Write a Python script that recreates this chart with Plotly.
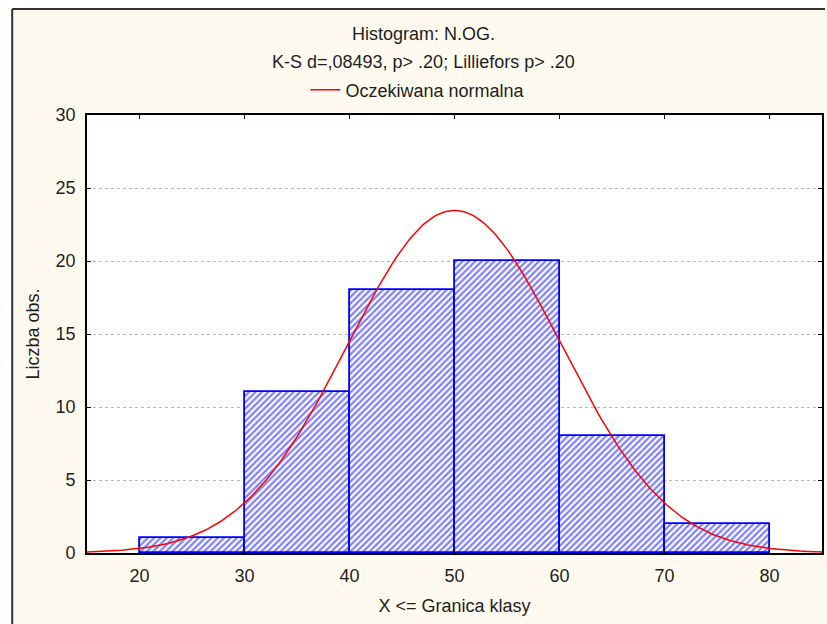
import numpy as np
import plotly.graph_objects as go

# ---- data ----
bin_left = [20, 30, 40, 50, 60, 70]
bin_width = 10
counts = [1, 11, 18, 20, 8, 2]
x_ticks = [20, 30, 40, 50, 60, 70, 80]
y_ticks = [0, 5, 10, 15, 20, 25, 30]
# expected normal (fitted) parameters
norm_mean = 50.0
norm_sd = 10.2
n_obs = sum(counts)
title_1 = "Histogram: N.OG."
title_2 = "K-S d=,08493, p> .20; Lilliefors p> .20"
legend_label = "Oczekiwana normalna"
x_title = "X <= Granica klasy"
y_title = "Liczba obs."

W, H = 827, 624
ML, MR, MT, MB = 87, 3, 115, 71
PW = W - ML - MR
PH = H - MT - MB


def px_x(px):
    return (px - ML) / PW


def px_y(py):
    return (H - MB - py) / PH


xs = np.linspace(15, 85, 300)
ys = n_obs * bin_width / (norm_sd * np.sqrt(2 * np.pi)) * np.exp(-0.5 * ((xs - norm_mean) / norm_sd) ** 2)

FONT = "Liberation Sans, Arial, sans-serif"
TXT = "#1e1e1e"
FS = 18

fig = go.Figure()
fig.add_trace(go.Bar(
    x=bin_left, y=counts, width=bin_width, offset=0,
    marker=dict(color="white", line=dict(color="#0000ff", width=1.8),
                pattern=dict(shape="/", fgcolor="#0000ff", bgcolor="white",
                             size=4.5, solidity=0.5)),
    showlegend=False, hoverinfo="skip",
))
fig.add_trace(go.Scatter(
    x=xs, y=ys, mode="lines", name=legend_label,
    line=dict(color="#ff0000", width=1.5), showlegend=True,
))

fig.update_layout(
    width=W, height=H,
    margin=dict(l=ML, r=MR, t=MT, b=MB),
    paper_bgcolor="#fffaef", plot_bgcolor="white",
    font=dict(family=FONT, color=TXT, size=FS),
    bargap=0,
    legend=dict(orientation="h", x=px_x(306), y=px_y(90), xanchor="left", yanchor="middle",
                bgcolor="rgba(0,0,0,0)", font=dict(size=FS, family=FONT, color=TXT),
                itemwidth=30),
    xaxis=dict(range=[15, 85], tickvals=x_ticks, ticks="inside", ticklen=4, tickcolor="black",
               showline=True, linecolor="black", linewidth=1.8, mirror="ticks",
               showgrid=False, zeroline=False, tickfont=dict(size=FS, color=TXT),
               ticklabelstandoff=5,
               title=dict(text=x_title, font=dict(size=FS, color=TXT), standoff=15)),
    yaxis=dict(range=[0, 30], tickvals=y_ticks, ticks="inside", ticklen=4, tickcolor="black",
               showline=True, linecolor="black", linewidth=1.8, mirror="ticks",
               showgrid=True, gridcolor="#b8b8b8", griddash="dot", gridwidth=1,
               zeroline=False, tickfont=dict(size=FS, color=TXT), ticklabelstandoff=6,
               title=dict(text=y_title, font=dict(size=FS, color=TXT), standoff=11)),
    annotations=[
        dict(text=title_1, x=px_x(424), y=px_y(34), xref="paper", yref="paper",
             showarrow=False, font=dict(size=FS, color=TXT), xanchor="center", yanchor="middle"),
        dict(text=title_2, x=px_x(424), y=px_y(62), xref="paper", yref="paper",
             showarrow=False, font=dict(size=FS, color=TXT), xanchor="center", yanchor="middle"),
    ],
    shapes=[
        dict(type="line", xref="paper", yref="paper", x0=px_x(12), x1=px_x(12), y0=px_y(9), y1=px_y(H),
             line=dict(color="#333333", width=2)),
        dict(type="line", xref="paper", yref="paper", x0=px_x(12), x1=px_x(W), y0=px_y(9), y1=px_y(9),
             line=dict(color="#333333", width=2)),
        dict(type="rect", xref="paper", yref="paper", x0=px_x(0), x1=px_x(11), y0=px_y(0), y1=px_y(H),
             fillcolor="white", line=dict(width=0), layer="below"),
        dict(type="rect", xref="paper", yref="paper", x0=px_x(0), x1=px_x(W), y0=px_y(0), y1=px_y(8),
             fillcolor="white", line=dict(width=0), layer="below"),
    ],
)

fig.write_html("out.html")
